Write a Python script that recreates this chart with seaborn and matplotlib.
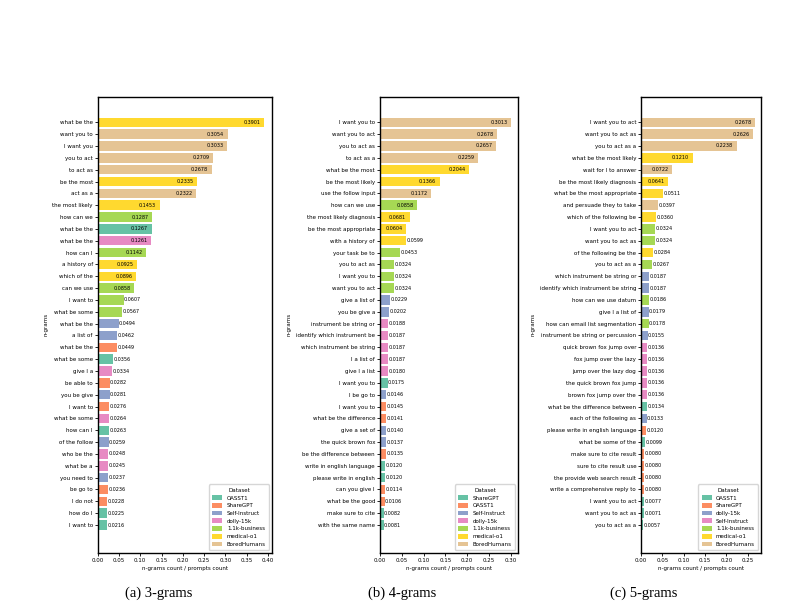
#!/usr/bin/env python3
import pandas as pd
import numpy as np
from matplotlib import pyplot as plt
import seaborn as sns

# ---- 3-grams ----
tri_grams = ['what be the', 'want you to', 'I want you', 'you to act', 'to act as', 'be the most',
             'act as a', 'the most likely', 'how can we', 'what be the', 'what be the', 'how can I',
             'a history of', 'which of the', 'can we use', 'I want to', 'what be some', 'what be the',
             'a list of', 'what be the', 'what be some', 'give I a', 'be able to', 'you be give',
             'I want to', 'what be some', 'how can I', 'of the follow', 'who be the', 'what be a',
             'you need to', 'be go to', 'I do not', 'how do I', 'I want to']
tri_vals = [0.3901, 0.3054, 0.3033, 0.2709, 0.2678, 0.2335, 0.2322, 0.1453, 0.1287, 0.1267, 0.1261,
            0.1142, 0.0925, 0.0896, 0.0858, 0.0607, 0.0567, 0.0494, 0.0462, 0.0449, 0.0356, 0.0334,
            0.0282, 0.0281, 0.0276, 0.0264, 0.0263, 0.0259, 0.0248, 0.0245, 0.0237, 0.0236, 0.0228,
            0.0225, 0.0216]
tri_sets = ['medical-o1', 'BoredHumans', 'BoredHumans', 'BoredHumans', 'BoredHumans', 'medical-o1',
            'BoredHumans', 'medical-o1', '1.1k-business', 'OASST1', 'dolly-15k', '1.1k-business',
            'medical-o1', 'medical-o1', '1.1k-business', '1.1k-business', '1.1k-business',
            'Self-Instruct', 'Self-Instruct', 'ShareGPT', 'OASST1', 'dolly-15k', 'ShareGPT',
            'Self-Instruct', 'ShareGPT', 'dolly-15k', 'OASST1', 'Self-Instruct', 'dolly-15k',
            'dolly-15k', 'Self-Instruct', 'ShareGPT', 'ShareGPT', 'OASST1', 'OASST1']
tri_order = ['OASST1', 'ShareGPT', 'Self-Instruct', 'dolly-15k', '1.1k-business', 'medical-o1', 'BoredHumans']

# ---- 4-grams ----
quad_grams = ['I want you to', 'want you to act', 'you to act as', 'to act as a', 'what be the most',
              'be the most likely', 'use the follow input', 'how can we use', 'the most likely diagnosis',
              'be the most appropriate', 'with a history of', 'your task be to', 'you to act as',
              'I want you to', 'want you to act', 'give a list of', 'you be give a',
              'instrument be string or', 'identify which instrument be', 'which instrument be string',
              'I a list of', 'give I a list', 'I want you to', 'I be go to', 'I want you to',
              'what be the difference', 'give a set of', 'the quick brown fox', 'be the difference between',
              'write in english language', 'please write in english', 'can you give I', 'what be the good',
              'make sure to cite', 'with the same name']
quad_vals = [0.3013, 0.2678, 0.2657, 0.2259, 0.2044, 0.1366, 0.1172, 0.0858, 0.0681, 0.0604, 0.0599,
             0.0453, 0.0324, 0.0324, 0.0324, 0.0229, 0.0202, 0.0188, 0.0187, 0.0187, 0.0187, 0.0180,
             0.0175, 0.0146, 0.0145, 0.0141, 0.0140, 0.0137, 0.0135, 0.0120, 0.0120, 0.0114, 0.0106,
             0.0082, 0.0081]
quad_sets = ['BoredHumans', 'BoredHumans', 'BoredHumans', 'BoredHumans', 'medical-o1', 'medical-o1',
             'BoredHumans', '1.1k-business', 'medical-o1', 'medical-o1', 'medical-o1', '1.1k-business',
             '1.1k-business', '1.1k-business', '1.1k-business', 'Self-Instruct', 'Self-Instruct',
             'dolly-15k', 'dolly-15k', 'dolly-15k', 'dolly-15k', 'dolly-15k', 'ShareGPT',
             'Self-Instruct', 'OASST1', 'OASST1', 'Self-Instruct', 'Self-Instruct', 'OASST1',
             'ShareGPT', 'ShareGPT', 'OASST1', 'OASST1', 'ShareGPT', 'ShareGPT']
quad_order = ['ShareGPT', 'OASST1', 'Self-Instruct', 'dolly-15k', '1.1k-business', 'medical-o1', 'BoredHumans']

# ---- 5-grams ----
penta_grams = ['I want you to act', 'want you to act as', 'you to act as a', 'what be the most likely',
               'wait for I to answer', 'be the most likely diagnosis', 'what be the most appropriate',
               'and persuade they to take', 'which of the following be', 'I want you to act',
               'want you to act as', 'of the following be the', 'you to act as a',
               'which instrument be string or', 'identify which instrument be string', 'how can we use datum',
               'give I a list of', 'how can email list segmentation', 'instrument be string or percussion',
               'quick brown fox jump over', 'fox jump over the lazy', 'jump over the lazy dog',
               'the quick brown fox jump', 'brown fox jump over the', 'what be the difference between',
               'each of the following as', 'please write in english language', 'what be some of the',
               'make sure to cite result', 'sure to cite result use', 'the provide web search result',
               'write a comprehensive reply to', 'I want you to act', 'want you to act as', 'you to act as a']
penta_vals = [0.2678, 0.2626, 0.2238, 0.1210, 0.0722, 0.0641, 0.0511, 0.0397, 0.0360, 0.0324, 0.0324,
              0.0284, 0.0267, 0.0187, 0.0187, 0.0186, 0.0179, 0.0178, 0.0155, 0.0136, 0.0136, 0.0136,
              0.0136, 0.0136, 0.0134, 0.0133, 0.0120, 0.0099, 0.0080, 0.0080, 0.0080, 0.0080, 0.0077,
              0.0071, 0.0057]
penta_sets = ['BoredHumans', 'BoredHumans', 'BoredHumans', 'medical-o1', 'BoredHumans', 'medical-o1',
              'medical-o1', 'BoredHumans', 'medical-o1', '1.1k-business', '1.1k-business', 'medical-o1',
              '1.1k-business', 'dolly-15k', 'dolly-15k', '1.1k-business', 'dolly-15k', '1.1k-business',
              'dolly-15k', 'Self-Instruct', 'Self-Instruct', 'Self-Instruct', 'Self-Instruct',
              'Self-Instruct', 'OASST1', 'dolly-15k', 'ShareGPT', 'OASST1', 'ShareGPT', 'ShareGPT',
              'ShareGPT', 'ShareGPT', 'OASST1', 'OASST1', 'OASST1']
penta_order = ['OASST1', 'ShareGPT', 'dolly-15k', 'Self-Instruct', '1.1k-business', 'medical-o1', 'BoredHumans']

captions = ['(a) 3-grams', '(b) 4-grams', '(c) 5-grams']

FS = 4.0


def draw(ax, grams, vals, sets, hue_order):
    df = pd.DataFrame({'row': [str(i) for i in range(len(grams))], 'n-grams': grams,
                       'value': vals, 'Dataset': sets})
    sns.barplot(data=df, x='value', y='row', hue='Dataset', hue_order=hue_order,
                order=list(df['row']), palette='Set2', dodge=False, orient='h',
                width=0.8, ax=ax, saturation=1)
    ax.set_yticks(range(len(grams)))
    ax.set_yticklabels(grams)
    ax.set_ylim(len(grams) + 1.36, -2.16)
    ax.set_xlim(0, max(vals) * 1.05)
    thr = 0.2 * max(vals)
    for i, v in enumerate(vals):
        if v > thr:
            ax.annotate(f'{v:.4f}', (v, i), xytext=(-2.5, 0), textcoords='offset points',
                        ha='right', va='center', fontsize=3.5)
        else:
            ax.annotate(f'{v:.4f}', (v, i), xytext=(0.3, 0), textcoords='offset points',
                        ha='left', va='center', fontsize=3.5)
    ax.set_xlabel('n-grams count / prompts count', fontsize=FS, labelpad=2)
    ax.set_ylabel('n-grams', fontsize=FS, labelpad=3)
    ax.tick_params(axis='both', labelsize=FS, length=2, width=0.6, pad=1.5)
    for s in ax.spines.values():
        s.set_linewidth(1.0)
    ax.legend(title='Dataset', loc='lower right', fontsize=FS, title_fontsize=FS,
              handlelength=1.8, handleheight=0.9, borderpad=0.6, labelspacing=0.45)
    return ax


def main():
    plt.rcParams['font.family'] = ['DejaVu Sans']
    fig = plt.figure(figsize=(8.04, 6.07), dpi=100)
    bottom, height = 0.0890, 0.7517
    ax1 = fig.add_axes([0.1215, bottom, 0.2168, height])
    ax2 = fig.add_axes([0.4726, bottom, 0.1716, height])
    ax3 = fig.add_axes([0.7973, bottom, 0.1493, height])
    draw(ax1, tri_grams, tri_vals, tri_sets, tri_order)
    draw(ax2, quad_grams, quad_vals, quad_sets, quad_order)
    draw(ax3, penta_grams, penta_vals, penta_sets, penta_order)
    for x, c in zip([159, 402, 644], captions):
        fig.text(x / 804, 1 - 593 / 607, c, ha='center', va='center', fontsize=10.5,
                 family='Liberation Serif')
    fig.savefig('out.png', dpi=100)


if __name__ == '__main__':
    main()
